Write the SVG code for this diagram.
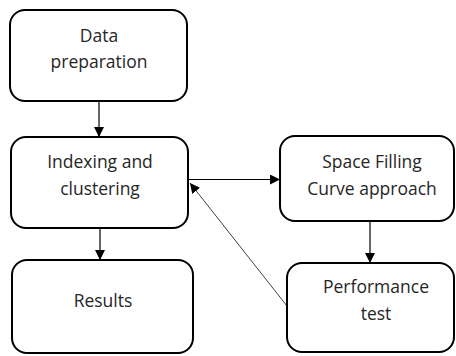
<svg xmlns="http://www.w3.org/2000/svg" width="456" height="356" viewBox="0 0 456 356">
  <style>
    .box { fill: #ffffff; stroke: #000000; stroke-width: 2; }
    .lbl { font-family: "Open Sans", "Liberation Sans", sans-serif; font-size: 17.5px; fill: #262626; text-anchor: middle; }
    .edge { stroke: #000000; stroke-width: 1.2; fill: none; marker-end: url(#arrow); }
    .edge.thin { stroke: #404040; stroke-width: 1; }
  </style>
  <defs>
    <marker id="arrow" viewBox="0 0 10 10" refX="10" refY="5" markerWidth="10" markerHeight="10" markerUnits="userSpaceOnUse" orient="auto">
      <path d="M0,0 L10,5 L0,10 Z" fill="#000000"/>
    </marker>
  </defs>
  <rect width="456" height="356" fill="#ffffff"/>

  <g id="connectors">
    <line class="edge" x1="99" y1="101" x2="99" y2="137"/>
    <line class="edge" x1="100" y1="228" x2="100" y2="260"/>
    <line class="edge" x1="188" y1="179.5" x2="280" y2="179.5"/>
    <line class="edge" x1="370" y1="221" x2="370" y2="263"/>
    <line class="edge thin" x1="287" y1="306" x2="190" y2="183"/>
  </g>

  <g id="data-preparation">
    <rect class="box" x="10" y="10" width="177" height="91" rx="15"/>
    <text class="lbl" x="99" y="42">Data</text>
    <text class="lbl" x="99" y="68">preparation</text>
  </g>

  <g id="indexing-clustering">
    <rect class="box" x="11" y="137" width="177" height="91" rx="15"/>
    <text class="lbl" x="100" y="168">Indexing and</text>
    <text class="lbl" x="100" y="195">clustering</text>
  </g>

  <g id="results">
    <rect class="box" x="12" y="260" width="181" height="93" rx="15"/>
    <text class="lbl" x="103" y="307">Results</text>
  </g>

  <g id="space-filling-curve">
    <rect class="box" x="280" y="136" width="174" height="85" rx="15"/>
    <text class="lbl" x="372" y="168">Space Filling</text>
    <text class="lbl" x="372" y="195">Curve approach</text>
  </g>

  <g id="performance-test">
    <rect class="box" x="287" y="263" width="167" height="89" rx="15"/>
    <text class="lbl" x="376" y="293">Performance</text>
    <text class="lbl" x="376" y="320">test</text>
  </g>
</svg>
